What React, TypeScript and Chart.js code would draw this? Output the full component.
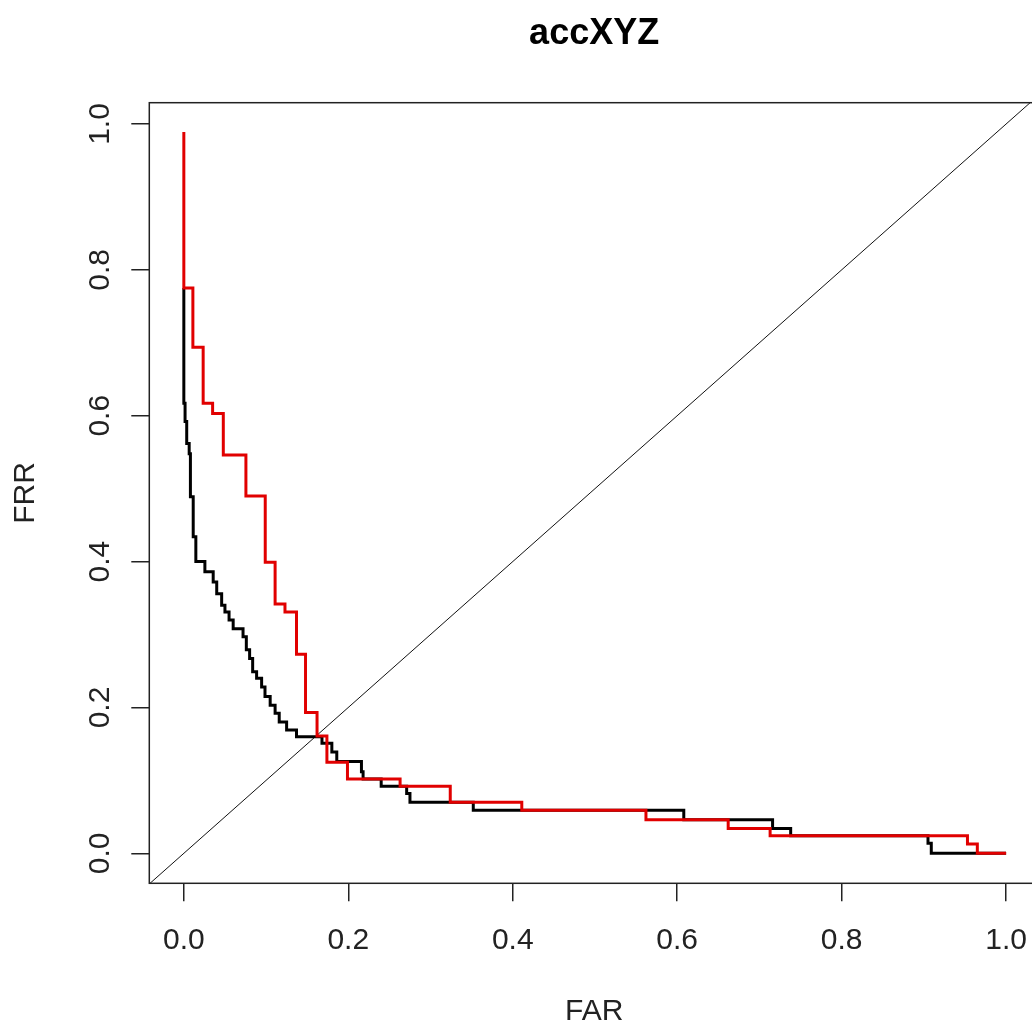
import React, { useEffect, useRef } from "react";
import { Chart, registerables } from "chart.js";

Chart.register(...registerables);

const TITLE = "accXYZ";
const X_LABEL = "FAR";
const Y_LABEL = "FRR";
const TICK_VALUES = [0, 0.2, 0.4, 0.6, 0.8, 1.0];
const TICK_LABELS = ["0.0", "0.2", "0.4", "0.6", "0.8", "1.0"];

// red curve (FAR, FRR) step points
const redFAR = [0, 0, 0.011, 0.0235, 0.035, 0.048, 0.0755, 0.099, 0.111, 0.123, 0.137, 0.148, 0.162, 0.174, 0.199, 0.263, 0.324, 0.411, 0.562, 0.662, 0.713, 0.953, 0.965, 1.0];
const redFRR = [0.989, 0.775, 0.694, 0.617, 0.603, 0.546, 0.49, 0.399, 0.342, 0.331, 0.273, 0.193, 0.161, 0.125, 0.102, 0.092, 0.07, 0.059, 0.046, 0.034, 0.024, 0.0128, 0.0, 0.0];

// black curve (FAR, FRR) step points
const blackFAR = [0, 0, 0.0015, 0.0035, 0.0065, 0.008, 0.0114, 0.0146, 0.0256, 0.0357, 0.04, 0.046, 0.05, 0.055, 0.06, 0.072, 0.076, 0.08, 0.0837, 0.0885, 0.0946, 0.0987, 0.105, 0.111, 0.116, 0.125, 0.137, 0.168, 0.18, 0.186, 0.216, 0.218, 0.24, 0.271, 0.275, 0.352, 0.608, 0.716, 0.738, 0.905, 0.909, 1.0];
const blackFRR = [0.775, 0.617, 0.592, 0.562, 0.548, 0.489, 0.434, 0.4, 0.386, 0.372, 0.356, 0.34, 0.331, 0.32, 0.308, 0.297, 0.279, 0.267, 0.249, 0.24, 0.228, 0.215, 0.203, 0.192, 0.18, 0.169, 0.16, 0.151, 0.139, 0.126, 0.112, 0.102, 0.092, 0.082, 0.07, 0.059, 0.046, 0.034, 0.024, 0.0137, 0.0, 0.0];

// reference line y = x
const diagFAR = [-0.1, 1.1];
const diagFRR = [-0.1, 1.1];

const FONT = "'Liberation Sans', Arial, sans-serif";
const CANVAS_W = 1041;
const CANVAS_H = 1027;

const framePlugin = {
  id: "frame",
  afterDraw(chart: any) {
    const { ctx, chartArea } = chart;
    ctx.save();
    ctx.strokeStyle = "#222";
    ctx.lineWidth = 1.5;
    ctx.strokeRect(chartArea.left, chartArea.top, chartArea.right - chartArea.left, chartArea.bottom - chartArea.top);
    ctx.restore();
  },
};

export default function App() {
  const ref = useRef<HTMLCanvasElement | null>(null);

  useEffect(() => {
    if (!ref.current) return;
    const toPts = (xs: number[], ys: number[]) => xs.map((x, i) => ({ x, y: ys[i] }));
    const chart = new Chart(ref.current, {
      type: "line",
      data: {
        datasets: [
          {
            label: "red",
            data: toPts(redFAR, redFRR),
            borderColor: "rgb(225,0,0)",
            borderWidth: 3,
            pointRadius: 0,
            stepped: "before",
            fill: false,
            order: 0,
          },
          {
            label: "black",
            data: toPts(blackFAR, blackFRR),
            borderColor: "#000",
            borderWidth: 3,
            pointRadius: 0,
            stepped: "before",
            fill: false,
            order: 1,
          },
          {
            label: "diag",
            data: toPts(diagFAR, diagFRR),
            borderColor: "#111",
            borderWidth: 1,
            pointRadius: 0,
            fill: false,
            order: 2,
          },
        ],
      },
      options: {
        animation: false,
        responsive: false,
        devicePixelRatio: 1,
        layout: { padding: { left: 0, right: 2, top: 0, bottom: 0 } },
        plugins: {
          legend: { display: false },
          tooltip: { enabled: false },
          title: {
            display: true,
            text: TITLE,
            fullSize: false,
            color: "#000",
            font: { family: FONT, size: 36, weight: "bold", lineHeight: 1.2 },
            padding: { top: 12.7, bottom: 46.8 },
          },
        },
        scales: {
          x: {
            type: "linear",
            min: -0.042,
            max: 1.04,
            afterBuildTicks: (s: any) => {
              s.ticks = TICK_VALUES.map((v) => ({ value: v }));
            },
            afterFit: (s: any) => {
              s.height = 143.7;
              s.paddingLeft = 0;
              s.paddingRight = 0;
            },
            ticks: {
              autoSkip: false,
              minRotation: 0,
              maxRotation: 0,
              padding: 21.7,
              color: "#222",
              font: { family: FONT, size: 30, lineHeight: 1.2 },
              callback: (_v: any, i: number) => TICK_LABELS[i],
            },
            grid: { drawOnChartArea: false, drawTicks: true, tickLength: 18, color: "#222", lineWidth: 1.5 },
            border: { display: false },
            title: {
              display: true,
              text: X_LABEL,
              color: "#222",
              font: { family: FONT, size: 30, lineHeight: 1 },
              padding: { top: 0, bottom: 0 },
            },
          },
          y: {
            type: "linear",
            min: -0.0411,
            max: 1.0292,
            afterBuildTicks: (s: any) => {
              s.ticks = TICK_VALUES.map((v) => ({ value: v }));
            },
            afterFit: (s: any) => {
              s.width = 149.3;
              s.paddingTop = 0;
              s.paddingBottom = 0;
            },
            ticks: {
              autoSkip: false,
              minRotation: 90,
              maxRotation: 90,
              crossAlign: "center",
              padding: 9.5,
              color: "#222",
              font: { family: FONT, size: 30, lineHeight: 1.2 },
              callback: (_v: any, i: number) => TICK_LABELS[i],
            },
            grid: { drawOnChartArea: false, drawTicks: true, tickLength: 18, color: "#222", lineWidth: 1.5 },
            border: { display: false },
            title: {
              display: true,
              text: Y_LABEL,
              color: "#222",
              font: { family: FONT, size: 30, lineHeight: 1 },
              padding: { top: 10.5, bottom: 0 },
            },
          },
        },
      } as any,
      plugins: [framePlugin],
    });
    return () => chart.destroy();
  }, []);

  return (
    <div style={{ position: "absolute", left: 0, top: 0, width: 1032, height: 1027, overflow: "hidden", background: "#fff" }}>
      <canvas ref={ref} width={CANVAS_W} height={CANVAS_H} style={{ display: "block" }} />
    </div>
  );
}
